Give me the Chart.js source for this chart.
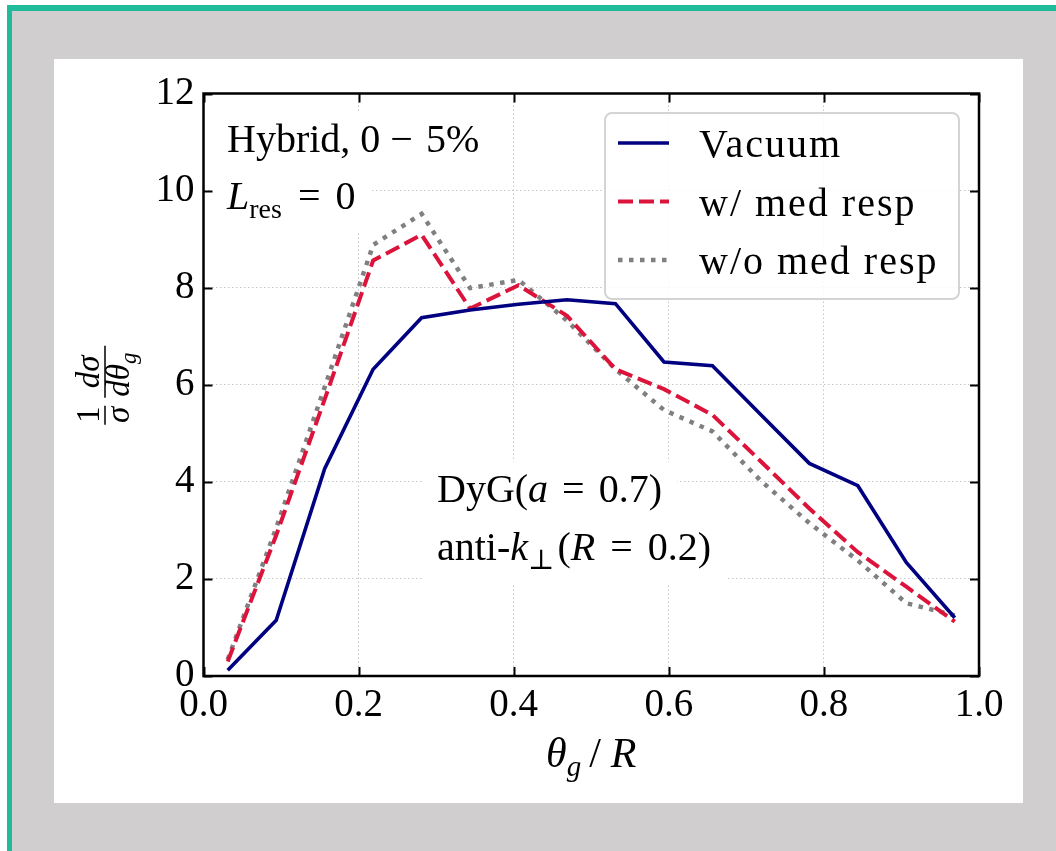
<!DOCTYPE html>
<html>
<head>
<meta charset="utf-8">
<script src="https://cdn.jsdelivr.net/npm/chart.js@4.4.1/dist/chart.umd.min.js"></script>
<style>
html, body { margin: 0; padding: 0; background: #fff; overflow: hidden; }
#frame { position: absolute; left: 7px; top: 5px; width: 1100px; height: 900px; background: #d0cecf;
         border-left: 5px solid #1fbb9b; border-top: 6px solid #1fbb9b; }
#card { position: absolute; left: 54px; top: 59px; width: 969px; height: 744px; background: #fff; }
canvas { display: block; }
</style>
</head>
<body>
<div id="frame"></div>
<div id="card"><canvas id="c" width="969" height="744"></canvas></div>
<script>
// bin centres of theta_g / R
var thetaR = [0.03125, 0.09375, 0.15625, 0.21875, 0.28125, 0.34375, 0.40625, 0.46875,
              0.53125, 0.59375, 0.65625, 0.71875, 0.78125, 0.84375, 0.90625, 0.96875]
var vacuum    = [0.12, 1.15, 4.27, 6.32, 7.38, 7.54, 7.66, 7.75, 7.67, 6.47, 6.39, 5.38, 4.38, 3.92, 2.34, 1.20]
var medResp   = [0.30, 2.90, 5.70, 8.56, 9.09, 7.57, 8.05, 7.42, 6.32, 5.91, 5.38, 4.42, 3.45, 2.55, 1.84, 1.12]
var noMedResp = [0.34, 3.05, 5.95, 8.88, 9.52, 7.99, 8.16, 7.32, 6.32, 5.48, 5.04, 4.02, 3.15, 2.38, 1.50, 1.25]
var seriesNames = ['Vacuum', 'w/ med resp', 'w/o med resp']

var SERIF = '"Liberation Serif", "DejaVu Serif", serif'
var TXT = 40

function pts(ys){
    return thetaR.map(function(x, i){ return {x: x, y: ys[i]} })
}

function font(size, italic){
    return (italic ? 'italic ' : '') + size + 'px ' + SERIF
}

// draws a row of text pieces, some italic, some as subscripts
function runs(ctx, x, y, parts, size){
    parts.forEach(function(p){
        var s = p.sub ? Math.round(size * 0.7) : size
        ctx.font = font(s, p.it)
        ctx.fillText(p.t, x, y + (p.sub ? size * 0.22 : 0))
        x += ctx.measureText(p.t).width + (p.gap || 0)
    })
    return x
}

function runsWidth(ctx, parts, size){
    var w = 0
    parts.forEach(function(p){
        ctx.font = font(p.sub ? Math.round(size * 0.7) : size, p.it)
        w += ctx.measureText(p.t).width + (p.gap || 0)
    })
    return w
}

var notes = [
    {x: 173, y: 93,  parts: [{t: 'Hybrid, 0', gap: 10}, {t: '\u2212', gap: 13}, {t: '5%'}]},
    {x: 173, y: 150, parts: [{t: 'L', it: true}, {t: 'res', sub: true, gap: 16}, {t: '=', gap: 15}, {t: '0'}]},
    {x: 383, y: 443, parts: [{t: 'DyG('}, {t: 'a', it: true, gap: 14}, {t: '=', gap: 14}, {t: '0.7)'}]},
    {x: 383, y: 501, parts: [{t: 'anti-'}, {t: 'k', it: true}, {t: '\u22a5', sub: true, gap: 3}, {t: '('}, {t: 'R', it: true, gap: 15},
                             {t: '=', gap: 15}, {t: '0.2)'}]}
]

var decor = {
    id: 'decor',
    beforeDatasetsDraw: function(chart){
        // white boxes behind the annotations hide the grid
        var ctx = chart.ctx
        ctx.save()
        ctx.fillStyle = '#fff'
        notes.forEach(function(n){
            var w = runsWidth(ctx, n.parts, TXT)
            ctx.fillRect(n.x - 15, n.y - 40, w + 30, 63)
        })
        ctx.restore()
    },
    afterDraw: function(chart){
        var ctx = chart.ctx, a = chart.chartArea
        var xs = chart.scales.x, ys = chart.scales.y
        ctx.save()
        ctx.strokeStyle = '#000'
        ctx.lineWidth = 2
        ctx.beginPath()
        xs.ticks.forEach(function(t){
            var px = Math.round(xs.getPixelForValue(t.value)) + 0.5
            ctx.moveTo(px, a.bottom); ctx.lineTo(px, a.bottom - 9)
            ctx.moveTo(px, a.top); ctx.lineTo(px, a.top + 9)
        })
        ys.ticks.forEach(function(t){
            var py = Math.round(ys.getPixelForValue(t.value)) + 0.5
            ctx.moveTo(a.left, py); ctx.lineTo(a.left + 9, py)
            ctx.moveTo(a.right, py); ctx.lineTo(a.right - 9, py)
        })
        ctx.stroke()
        ctx.lineWidth = 2.5
        ctx.strokeRect(a.left, a.top, a.right - a.left, a.bottom - a.top)

        // annotations
        ctx.fillStyle = '#000'
        ctx.textBaseline = 'alphabetic'
        ctx.textAlign = 'left'
        notes.forEach(function(n){ runs(ctx, n.x, n.y, n.parts, TXT) })

        // legend
        var lx = 551, ly = 54, lw = 354, lh = 186
        ctx.fillStyle = 'rgba(255,255,255,0.85)'
        ctx.strokeStyle = '#d4d4d4'
        ctx.lineWidth = 2
        ctx.beginPath()
        ctx.roundRect(lx, ly, lw, lh, 7)
        ctx.fill()
        ctx.stroke()
        chart.data.datasets.forEach(function(ds, i){
            var cy = 84 + i * 58.5
            ctx.strokeStyle = ds.borderColor
            ctx.lineWidth = ds.borderWidth
            ctx.setLineDash(ds.borderDash || [])
            ctx.beginPath()
            ctx.moveTo(564, cy); ctx.lineTo(615, cy)
            ctx.stroke()
            ctx.setLineDash([])
            ctx.fillStyle = '#000'
            ctx.font = font(TXT)
            ctx.letterSpacing = '2px'
            ctx.fillText(ds.label, 645, cy + 14)
            ctx.letterSpacing = '0px'
        })

        // x axis title
        var xt = [{t: '\u03b8', it: true}, {t: 'g', it: true, sub: true, gap: 8}, {t: '/', gap: 10}, {t: 'R', it: true}]
        var cx = (a.left + a.right) / 2
        runs(ctx, cx - runsWidth(ctx, xt, 42) / 2, 708, xt, 42)

        // y axis title: (1/sigma) dsigma/dtheta_g, rotated
        ctx.translate(51, (a.top + a.bottom) / 2)
        ctx.rotate(-Math.PI / 2)
        ctx.textAlign = 'center'
        ctx.lineWidth = 1.5
        ctx.strokeStyle = '#000'
        ctx.beginPath()
        ctx.moveTo(-40, 0); ctx.lineTo(-21, 0)
        ctx.moveTo(-13, 0); ctx.lineTo(39, 0)
        ctx.stroke()
        ctx.font = font(33)
        ctx.fillText('1', -30, -6)
        ctx.font = font(33, true)
        ctx.fillText('\u03c3', -30, 24)
        ctx.fillText('d\u03c3', 13, -6)
        ctx.textAlign = 'left'
        runs(ctx, -12, 24, [{t: 'd\u03b8', it: true}, {t: 'g', it: true, sub: true}], 33)
        ctx.restore()
    }
}

new Chart(document.getElementById('c'), {
    type: 'line',
    data: {
        datasets: [
            {label: seriesNames[0], data: pts(vacuum), borderColor: '#000080', borderWidth: 3.6},
            {label: seriesNames[1], data: pts(medResp), borderColor: '#dc143c', borderWidth: 4, borderDash: [15, 6]},
            {label: seriesNames[2], data: pts(noMedResp), borderColor: '#808080', borderWidth: 4.5, borderDash: [4.5, 6.5]}
        ]
    },
    options: {
        responsive: false,
        animation: false,
        devicePixelRatio: 1,
        layout: {padding: {top: 34.5, right: 44, left: 0, bottom: 0}},
        elements: {
            point: {radius: 0},
            line: {tension: 0, borderCapStyle: 'butt', borderJoinStyle: 'miter'}
        },
        plugins: {legend: {display: false}, tooltip: {enabled: false}},
        scales: {
            x: {
                type: 'linear', min: 0, max: 1,
                afterFit: function(s){ s.height = 127 },
                ticks: {stepSize: 0.2, padding: 6, color: '#000', font: {family: SERIF, size: 39},
                        maxRotation: 0, callback: function(v){ return v.toFixed(1) }},
                grid: {color: '#c8c8c8', lineWidth: 1, drawTicks: false},
                border: {display: false, dash: [1.5, 2.5]}
            },
            y: {
                min: 0, max: 12,
                afterFit: function(s){ s.width = 149.5 },
                ticks: {stepSize: 2, padding: 9, color: '#000', font: {family: SERIF, size: 39}},
                grid: {color: '#c8c8c8', lineWidth: 1, drawTicks: false},
                border: {display: false, dash: [1.5, 2.5]}
            }
        }
    },
    plugins: [decor]
})
</script>
</body>
</html>
